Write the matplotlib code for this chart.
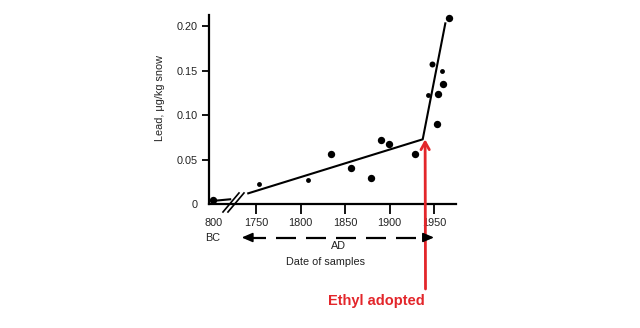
import matplotlib
matplotlib.use("Agg")
import matplotlib.pyplot as plt
from matplotlib.lines import Line2D
from matplotlib.patches import FancyArrowPatch

plt.rcParams["font.family"] = ["Liberation Sans Narrow", "Liberation Sans", "DejaVu Sans"]

W, H = 640, 328

# 800 BC sample is drawn at a fake position left of the axis break
BC_POS = 1702

# samples (year, Pb in ug/kg snow); size class 0 small, 1 medium, 2 large
sample_years = [BC_POS, 1753.7, 1808.8, 1834.3, 1856.7, 1879.2, 1890.8, 1899.8,
                1928.7, 1943.6, 1948.1, 1953.7, 1954.2, 1959.0, 1960.4, 1967.2]
sample_lead = [0.0045, 0.0221, 0.0270, 0.0562, 0.0408, 0.0296, 0.0722, 0.0678,
               0.0562, 0.1228, 0.1576, 0.0903, 0.1236, 0.1498, 0.1352, 0.2093]
sample_size = [2, 0, 0, 2, 2, 2, 2, 2, 2, 0, 1, 2, 2, 0, 2, 2]

# fitted trend (two straight pieces joined at the knee)
fit_years = [1741.3, 1937.3, 1962.7]
fit_lead = [0.012, 0.0727, 0.203]
bc_fit_years = [1704, 1721]
bc_fit_lead = [0.0037, 0.0053]

xtick_pos = [BC_POS, 1750, 1800, 1850, 1900, 1950]
xtick_labels = ["800", "1750", "1800", "1850", "1900", "1950"]
ytick_pos = [0, 0.05, 0.10, 0.15, 0.20]
ytick_labels = ["0", "0.05", "0.10", "0.15", "0.20"]

KNEE_ARROW_X = 1940
RED = "#e3262b"
TXT = "#222222"
FS = 7.8


def fx(x):
    return x / W


def fy(y):
    return 1 - y / H


fig = plt.figure(figsize=(6.4, 3.28), dpi=100)
ax = fig.add_axes([fx(209), fy(204), (456 - 209) / W, (204 - 15) / H])
ax.set_xlim(1697.2, 1974.7)
ax.set_ylim(0, 0.2124)

for s in ("top", "right"):
    ax.spines[s].set_visible(False)
for s in ("left", "bottom"):
    ax.spines[s].set_linewidth(1.6)

ax.set_xticks(xtick_pos, xtick_labels)
ax.set_yticks(ytick_pos, ytick_labels)
ax.tick_params(axis="x", direction="out", length=7, width=1.3, pad=3,
               labelsize=FS, labelcolor=TXT)
ax.tick_params(axis="y", direction="out", length=5, width=1.3, pad=3,
               labelsize=FS, labelcolor=TXT)
ax.xaxis.get_major_ticks()[0].tick1line.set_visible(False)
ax.yaxis.get_major_ticks()[0].tick1line.set_visible(False)

# trend lines
ax.plot(fit_years, fit_lead, color="black", lw=1.5, clip_on=False)
ax.plot(bc_fit_years, bc_fit_lead, color="black", lw=1.5, clip_on=False)

# break marks on the time axis
for dx in (0, 5.6):
    ax.plot([1712.9 + dx, 1730.9 + dx], [-0.009, 0.0124], color="black",
            lw=1.2, clip_on=False)

# samples
msizes = {0: 3.5, 1: 4.3, 2: 5.3}
for yr, pb, sz in zip(sample_years, sample_lead, sample_size):
    ax.plot(yr, pb, "o", color="black", ms=msizes[sz], mec="none", clip_on=False)

# y label
fig.text(fx(160), fy(98), "Lead, \u03bcg/kg snow", rotation=90, ha="center",
         va="center", fontsize=FS, color=TXT)

# BC / AD labels and dashed time arrow
fig.text(fx(212.5), fy(238), "BC", ha="center", va="center", fontsize=FS, color=TXT)
fig.text(fx(338), fy(246), "AD", ha="center", va="center", fontsize=FS, color=TXT)
fig.text(fx(326), fy(262), "Date of samples", ha="center", va="center",
         fontsize=FS, color=TXT)

y_arr = fy(237.5)
fig.add_artist(Line2D([fx(246), fx(430)], [y_arr, y_arr], color="black", lw=1.6,
                      linestyle=(0, (9, 4.5)), transform=fig.transFigure))
for tip, tail in ((241.7, 250), (434, 426)):
    fig.add_artist(FancyArrowPatch(
        (fx(tail), y_arr), (fx(tip), y_arr), transform=fig.transFigure,
        arrowstyle="-|>,head_length=0.65,head_width=0.28", mutation_scale=10,
        color="black", lw=1.2, shrinkA=0, shrinkB=0))

# red arrow to the knee
ax.annotate("", xy=(KNEE_ARROW_X, fit_lead[1]), xycoords="data",
            xytext=(fx(425.5), fy(289)), textcoords="figure fraction",
            arrowprops=dict(arrowstyle="->,head_length=0.45,head_width=0.25",
                            color=RED, lw=2.0, mutation_scale=12,
                            shrinkA=0, shrinkB=0))
fig.text(fx(376.5), fy(301), "Ethyl adopted", color=RED, ha="center",
         va="center", fontsize=10.5, fontweight="bold", family="Liberation Sans")

fig.savefig("out.png", dpi=100)
